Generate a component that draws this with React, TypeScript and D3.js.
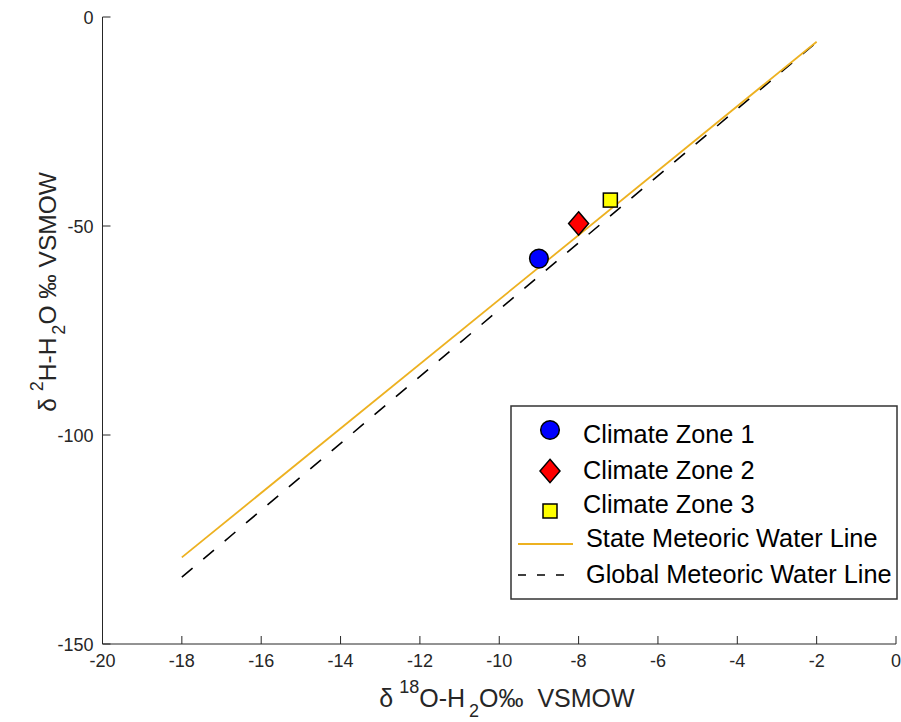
import React from "react";
import * as d3 from "d3";

const xTicks = [-20, -18, -16, -14, -12, -10, -8, -6, -4, -2, 0];
const yTicks = [-150, -100, -50, 0];

const zoneNames = ["Climate Zone 1", "Climate Zone 2", "Climate Zone 3"];
const zoneX = [-9, -8, -7.2];
const zoneY = [-57.8, -49.4, -43.8];
const zoneShapes = ["circle", "diamond", "square"];
const zoneColors = ["#0000ff", "#ff0000", "#ffff00"];

const lineX = [-18, -2];
const stateSlope = 7.71;
const stateIntercept = 9.5;
const globalSlope = 8;
const globalIntercept = 10;

const W = 901;
const H = 722;
const FONT = "'Liberation Sans', Arial, Helvetica, sans-serif";

function Marker({ shape, cx, cy, color }: { shape: string; cx: number; cy: number; color: string }) {
  if (shape === "circle") return <circle cx={cx} cy={cy} r={9.3} fill={color} stroke="#000" strokeWidth={1.5} />;
  if (shape === "diamond")
    return (
      <path
        d={`M${cx},${cy - 11.7}L${cx + 10},${cy}L${cx},${cy + 11.7}L${cx - 10},${cy}Z`}
        fill={color}
        stroke="#000"
        strokeWidth={1.5}
      />
    );
  return <rect x={cx - 7} y={cy - 7} width={14} height={14} fill={color} stroke="#000" strokeWidth={1.5} />;
}

export default function App() {
  const x = d3.scaleLinear().domain([-20, 0]).range([102.5, 896]);
  const y = d3.scaleLinear().domain([-150, 0]).range([644, 17]);

  const line = d3
    .line<[number, number]>()
    .x((d) => x(d[0]))
    .y((d) => y(d[1]));
  const statePts: [number, number][] = lineX.map((v) => [v, stateSlope * v + stateIntercept]);
  const globalPts: [number, number][] = lineX.map((v) => [v, globalSlope * v + globalIntercept]);

  const lx = 511;
  const ly = 406;
  const baseY = [443, 479, 513, 547, 583];
  const markerY = [430, 471, 511];

  return (
    <svg width={W} height={H} style={{ display: "block", position: "absolute", left: 0, top: 0 }} fontFamily={FONT}>
      <rect width={W} height={H} fill="#fff" />
      {/* data lines */}
      <path d={line(globalPts) || ""} fill="none" stroke="#000" strokeWidth={1.6} strokeDasharray="14,14" />
      <path d={line(statePts) || ""} fill="none" stroke="#edb120" strokeWidth={1.8} />
      {zoneNames.map((n, i) => (
        <Marker key={n} shape={zoneShapes[i]} cx={x(zoneX[i])} cy={y(zoneY[i])} color={zoneColors[i]} />
      ))}
      {/* axes */}
      <line x1={x(-20)} x2={x(0)} y1={y(-150)} y2={y(-150)} stroke="#262626" strokeWidth={1} />
      <line x1={x(-20)} x2={x(-20)} y1={y(-150)} y2={y(0)} stroke="#262626" strokeWidth={1} />
      {xTicks.map((t) => (
        <g key={"x" + t}>
          <line x1={x(t)} x2={x(t)} y1={y(-150)} y2={y(-150) - 8} stroke="#262626" />
          <text x={x(t)} y={y(-150) + 23} textAnchor="middle" fontSize={18} fill="#262626">
            {t}
          </text>
        </g>
      ))}
      {yTicks.map((t) => (
        <g key={"y" + t}>
          <line x1={x(-20)} x2={x(-20) + 8} y1={y(t)} y2={y(t)} stroke="#262626" />
          <text x={x(-20) - 9} y={y(t) + 6.5} textAnchor="end" fontSize={18} fill="#262626">
            {t}
          </text>
        </g>
      ))}
      {/* x label */}
      <text x={507} y={707} textAnchor="middle" fontSize={25} fill="#262626" xmlSpace="preserve">
        <tspan>δ</tspan>
        <tspan dx={6} dy={-14} fontSize={18}>18</tspan>
        <tspan dy={14}>O-H</tspan>
        <tspan dx={4} dy={10} fontSize={18}>2</tspan>
        <tspan dy={-10}>O‰  VSMOW</tspan>
      </text>
      {/* y label */}
      <text transform={`translate(56,292) rotate(-90)`} textAnchor="middle" fontSize={24.5} fill="#262626" xmlSpace="preserve">
        <tspan>δ</tspan>
        <tspan dx={7} dy={-13} fontSize={18}>2</tspan>
        <tspan dy={13}>H-H</tspan>
        <tspan dx={3} dy={9} fontSize={18}>2</tspan>
        <tspan dy={-9}>O ‰ VSMOW</tspan>
      </text>
      {/* legend */}
      <rect x={lx} y={ly} width={386} height={193} fill="#fff" stroke="#333" strokeWidth={1.5} />
      {zoneNames.map((n, i) => (
        <g key={"lg" + n}>
          <Marker shape={zoneShapes[i]} cx={550} cy={markerY[i]} color={zoneColors[i]} />
          <text x={583} y={baseY[i]} fontSize={25.3} fill="#000">
            {n}
          </text>
        </g>
      ))}
      <line x1={518} x2={573} y1={544} y2={544} stroke="#edb120" strokeWidth={1.8} />
      <text x={586} y={baseY[3]} fontSize={25.3} fill="#000">
        State Meteoric Water Line
      </text>
      <line x1={518} x2={573} y1={575} y2={575} stroke="#000" strokeWidth={1.5} strokeDasharray="8,11" />
      <text x={586} y={baseY[4]} fontSize={25.3} fill="#000">
        Global Meteoric Water Line
      </text>
    </svg>
  );
}
